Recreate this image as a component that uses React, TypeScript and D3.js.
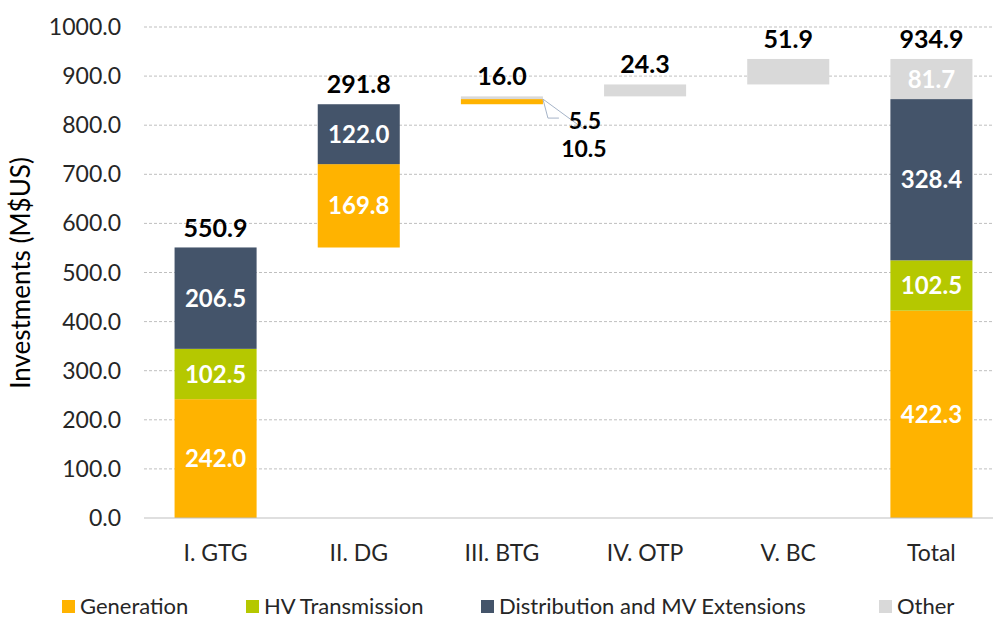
import React, { useEffect, useRef } from 'react';
import * as d3 from 'd3';

const categories = ['I. GTG', 'II. DG', 'III. BTG', 'IV. OTP', 'V. BC', 'Total'];
const seriesNames = ['Generation', 'HV Transmission', 'Distribution and MV Extensions', 'Other'];
const seriesColors = ['#FFB300', '#B5C800', '#44546A', '#D9D9D9'];

// per category values, in series order
const generation = [242.0, 169.8, 10.5, 0, 0, 422.3];
const hvTransmission = [102.5, 0, 0, 0, 0, 102.5];
const distribution = [206.5, 122.0, 0, 0, 0, 328.4];
const other = [0, 0, 5.5, 24.3, 51.9, 81.7];
const totals = [550.9, 291.8, 16.0, 24.3, 51.9, 934.9];

const yTicks = [0, 100, 200, 300, 400, 500, 600, 700, 800, 900, 1000];

const App = () => {
  const svgRef = useRef<SVGSVGElement>(null);

  useEffect(() => {
    const width = 993;
    const height = 619;
    const margin = { top: 27, right: -10, bottom: 101, left: 144 };
    const font = 'Lato, "Open Sans", sans-serif';

    const svg = d3.select(svgRef.current);
    svg.selectAll('*').remove();
    svg.attr('width', width).attr('height', height);

    const x = d3.scaleBand()
      .domain(categories)
      .range([margin.left, width - margin.right])
      .paddingInner(0.427)
      .paddingOuter(0.2135);

    const y = d3.scaleLinear()
      .domain([0, 1000])
      .range([height - margin.bottom, margin.top]);

    // grid
    svg.append('g')
      .selectAll('line')
      .data(yTicks.filter(d => d > 0))
      .enter().append('line')
      .attr('x1', margin.left)
      .attr('x2', width)
      .attr('y1', d => y(d))
      .attr('y2', d => y(d))
      .attr('stroke', '#BFBFBF')
      .attr('stroke-width', 1)
      .attr('stroke-dasharray', '3,2');

    // y labels
    svg.append('g')
      .selectAll('text')
      .data(yTicks)
      .enter().append('text')
      .attr('x', 121)
      .attr('y', d => y(d))
      .attr('dy', '0.35em')
      .attr('text-anchor', 'end')
      .attr('font-family', font)
      .attr('font-size', 23)
      .attr('fill', '#262626')
      .text(d => d.toFixed(1));

    svg.append('text')
      .attr('transform', `translate(30,273) rotate(-90)`)
      .attr('text-anchor', 'middle')
      .attr('font-family', font)
      .attr('font-size', 26)
      .attr('fill', '#000')
      .text('Investments (M$US)');

    // stacked waterfall segments
    const series = [generation, hvTransmission, distribution, other];
    const segs: any[] = [];
    categories.forEach((c, i) => {
      let base = 0;
      if (c !== 'Total') {
        for (let k = 0; k < i; k++) base += totals[k];
      }
      series.forEach((vals, s) => {
        const v = vals[i];
        if (v > 0) {
          segs.push({ cat: c, s, y0: base, y1: base + v, v });
          base += v;
        }
      });
    });

    svg.append('g')
      .selectAll('rect')
      .data(segs)
      .enter().append('rect')
      .attr('x', d => x(d.cat)!)
      .attr('width', x.bandwidth())
      .attr('y', d => y(d.y1))
      .attr('height', d => y(d.y0) - y(d.y1))
      .attr('fill', d => seriesColors[d.s]);

    // axis baseline
    svg.append('line')
      .attr('x1', margin.left)
      .attr('x2', width)
      .attr('y1', y(0))
      .attr('y2', y(0))
      .attr('stroke', '#BFBFBF')
      .attr('stroke-width', 1);

    // inner labels (big segments)
    svg.append('g')
      .selectAll('text')
      .data(segs.filter(d => d.v > 60))
      .enter().append('text')
      .attr('x', d => x(d.cat)! + x.bandwidth() / 2)
      .attr('y', d => y((d.y0 + d.y1) / 2))
      .attr('dy', '0.36em')
      .attr('text-anchor', 'middle')
      .attr('font-family', font)
      .attr('font-weight', 'bold')
      .attr('font-size', 24)
      .attr('fill', '#fff')
      .text(d => d.v.toFixed(1));

    // small BTG labels with leader lines
    const btg = segs.filter(d => d.cat === 'III. BTG');
    const bx = x('III. BTG')! + x.bandwidth();
    const otherSeg = btg.find(d => d.s === 3);
    const genSeg = btg.find(d => d.s === 0);
    if (otherSeg && genSeg) {
      const ly = y(otherSeg.y0);
      svg.append('polyline')
        .attr('points', `${bx},${ly} ${bx + 5},${ly + 19} ${bx + 16},${ly + 19}`)
        .attr('fill', 'none')
        .attr('stroke', '#A6B4C8')
        .attr('stroke-width', 1);
      svg.append('line')
        .attr('x1', bx).attr('y1', ly)
        .attr('x2', bx + 41).attr('y2', ly + 30)
        .attr('stroke', '#A6B4C8')
        .attr('stroke-width', 1);
      svg.append('text')
        .attr('x', bx + 42)
        .attr('y', ly + 22)
        .attr('dy', '0.36em')
        .attr('text-anchor', 'middle')
        .attr('font-family', font)
        .attr('font-weight', 'bold')
        .attr('font-size', 23)
        .attr('fill', '#000')
        .text(otherSeg.v.toFixed(1));
      svg.append('text')
        .attr('x', bx + 41)
        .attr('y', ly + 50)
        .attr('dy', '0.36em')
        .attr('text-anchor', 'middle')
        .attr('font-family', font)
        .attr('font-weight', 'bold')
        .attr('font-size', 23)
        .attr('fill', '#000')
        .text(genSeg.v.toFixed(1));
    }

    // total labels above each bar
    svg.append('g')
      .selectAll('text')
      .data(categories)
      .enter().append('text')
      .attr('x', d => x(d)! + x.bandwidth() / 2)
      .attr('y', (d, i) => {
        let top = 0;
        if (d === 'Total') top = totals[i];
        else for (let k = 0; k <= i; k++) top += totals[k];
        return y(top) - 11;
      })
      .attr('text-anchor', 'middle')
      .attr('font-family', font)
      .attr('font-weight', 'bold')
      .attr('font-size', 25)
      .attr('fill', '#000')
      .text((d, i) => totals[i].toFixed(1));

    // x labels
    svg.append('g')
      .selectAll('text')
      .data(categories)
      .enter().append('text')
      .attr('x', d => x(d)! + x.bandwidth() / 2)
      .attr('y', 553)
      .attr('dy', '0.35em')
      .attr('text-anchor', 'middle')
      .attr('font-family', font)
      .attr('font-size', 23)
      .attr('fill', '#262626')
      .text(d => d);

    // legend
    const legendX = [62, 246, 481, 879];
    const lg = svg.append('g')
      .selectAll('g')
      .data(seriesNames)
      .enter().append('g')
      .attr('transform', (d, i) => `translate(${legendX[i]},606)`);
    lg.append('rect')
      .attr('x', 0)
      .attr('y', -6)
      .attr('width', 13)
      .attr('height', 13)
      .attr('fill', (d, i) => seriesColors[i]);
    lg.append('text')
      .attr('x', 18)
      .attr('y', 0)
      .attr('dy', '0.35em')
      .attr('font-family', font)
      .attr('font-size', 22)
      .attr('fill', '#262626')
      .text(d => d);
  }, []);

  return <svg ref={svgRef} style={{ position: 'absolute', left: 0, top: 0 }}></svg>;
};

export default App;
